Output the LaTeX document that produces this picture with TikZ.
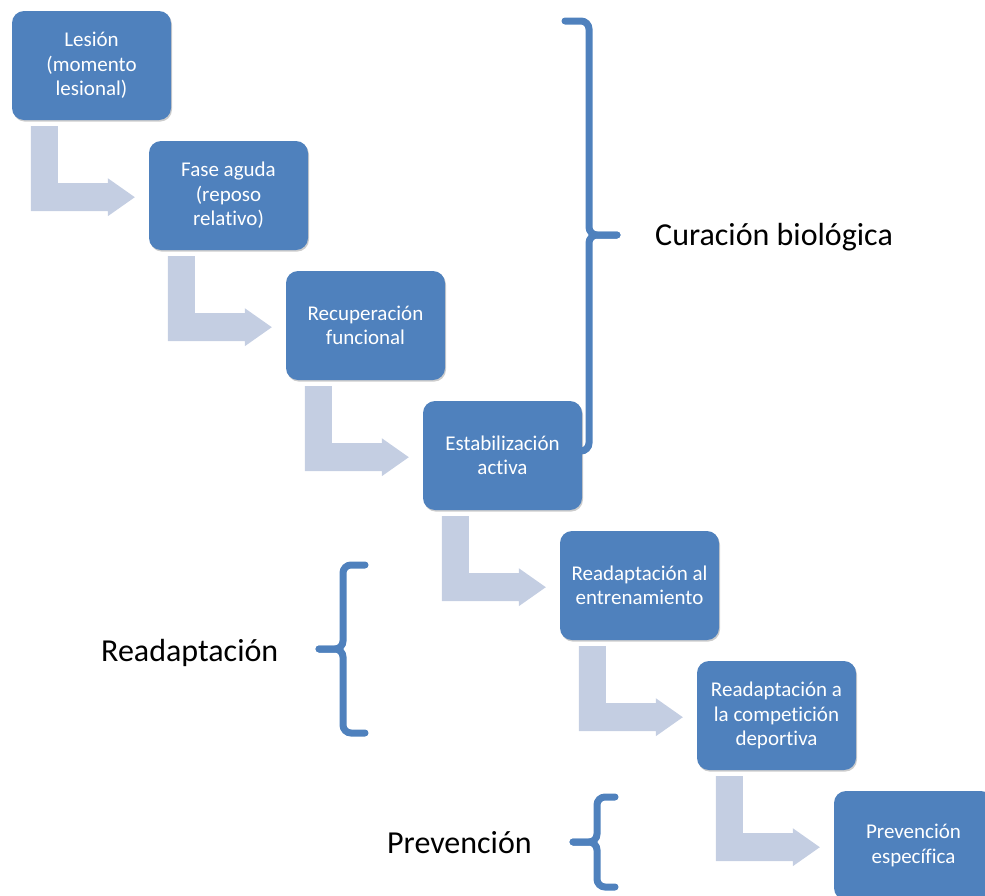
\documentclass[tikz,border=0pt]{standalone}
\usepackage{fontspec}
\setmainfont{Carlito}[Ligatures=NoCommon]
\usetikzlibrary{shadows}
\definecolor{boxblue}{HTML}{4F81BD}
\definecolor{arrowblue}{HTML}{C4CEE2}
\tikzset{
  stagebox/.style={rounded corners=12pt, fill=boxblue, text=white, align=center,
    minimum width=159pt, minimum height=109pt, inner sep=0pt,
    font=\fontsize{21}{24.5}\selectfont,
    drop shadow={shadow xshift=1pt, shadow yshift=-1.6pt, opacity=0.2, fill=black}},
  bracestroke/.style={draw=boxblue, line width=7pt, rounded corners=8pt, line cap=round},
  biglabel/.style={anchor=base west, inner sep=0pt, font=\fontsize{32}{38}\selectfont, text=black}
}
\newcommand{\bentarrow}[1]{%
  \begin{scope}[shift={(#1.south west)}]
    \fill[arrowblue] (19,6) -- (46,6) -- (46,63) -- (96,63) -- (96,58) -- (123,77)
      -- (96,96) -- (96,91) -- (19,91) -- cycle;
  \end{scope}}
\begin{document}
\begin{tikzpicture}[x=1pt,y=-1pt]
\useasboundingbox (0,0) rectangle (985,895);
\begin{scope}
\clip (0,0) rectangle (985,895);
\node[stagebox] (b1) at (91.5,65.5) {Lesión\\(momento\\lesional)};
\node[stagebox] (b2) at (228.5,195.5) {Fase aguda\\(reposo\\relativo)};
\node[stagebox] (b3) at (365.5,325.5) {Recuperación\\funcional};
\node[stagebox] (b4) at (502.5,455.5) {Estabilización\\activa};
\node[stagebox] (b5) at (639.5,585.5) {Readaptación al\\entrenamiento};
\node[stagebox] (b6) at (776.5,715.5) {Readaptación a\\la competición\\deportiva};
\node[stagebox] (b7) at (913.5,845.5) {Prevención\\específica};
\bentarrow{b1}
\bentarrow{b2}
\bentarrow{b3}
\bentarrow{b4}
\bentarrow{b5}
\bentarrow{b6}
% braces
\draw[bracestroke] (565,21) -- (589,21) -- (589,235) -- (617,235);
\draw[bracestroke] (617,235) -- (589,235) -- (589,451) -- (565,451);
\draw[bracestroke] (365,565) -- (343,565) -- (343,649) -- (319,649);
\draw[bracestroke] (319,649) -- (343,649) -- (343,733) -- (365,733);
\draw[bracestroke] (615,797) -- (597,797) -- (597,842) -- (573,842);
\draw[bracestroke] (573,842) -- (597,842) -- (597,887) -- (615,887);
\node[biglabel] (l1) at (655,245) {Curación biológica};
\node[biglabel] (l2) at (101,661) {Readaptación};
\node[biglabel] (l3) at (387,853) {Prevención};
\end{scope}
\end{tikzpicture}
\end{document}
